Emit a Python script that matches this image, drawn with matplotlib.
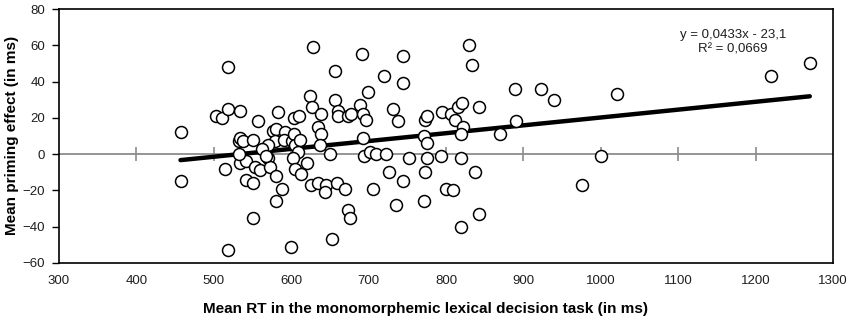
import numpy as np
import matplotlib
matplotlib.use('Agg')
import matplotlib.pyplot as plt

# Data: mean RT (ms) and mean priming effect (ms)
rt = [458, 457, 519, 519, 503, 510, 519, 534, 515, 557,
      551, 532, 534, 538, 551, 534, 542, 532, 542, 551,
      553, 560, 570, 573, 580, 588, 581, 576, 581, 583,
      579, 570, 562, 592, 591, 568, 600,
      601, 603, 603, 610, 605, 611, 609, 602, 605, 613,
      621, 626, 635, 645, 644, 659, 624, 627, 628, 639,
      635, 638, 637, 650, 657, 657, 660, 661, 653,
      670, 674, 676, 674, 677, 689, 693, 697, 691, 699,
      693, 694, 702, 709, 723, 706, 720, 731, 738, 744,
      744, 726, 744, 736, 752,
      773, 776, 771, 775, 775, 773, 772, 795, 793, 807,
      811, 816, 821, 843, 822, 820, 820, 800, 809, 819,
      838, 843, 830, 834,
      870, 891, 889, 923, 939, 976, 1000, 1021, 1220, 1270]
priming = [12, -15, 48, -53, 21, 20, 25, 24, -8, 18,
           -35, 7, 9, 7, 8, -5, -4, 0, -14, -16,
           -7, -9, -2, -7, -12, -19, -26, 13, 14, 23,
           7, 5, 3, 12, 8, -1, -51,
           7, 11, 20, 21, 5, 8, 1, -2, -8, -11,
           -5, -17, -16, -17, -21, -16, 32, 26, 59, 22,
           15, 11, 5, 0, 30, 46, 24, 21, -47,
           -19, -31, -35, 21, 22, 27, 22, 19, 55, 34,
           9, -1, 1, 0, 0, -19, 43, 25, 18, 54,
           39, -10, -15, -28, -2,
           19, 21, 10, 6, -2, -10, -26, 23, -1, 22,
           19, 26, 28, 26, 15, 11, -2, -19, -20, -40,
           -10, -33, 60, 49,
           11, 18, 36, 36, 30, -17, -1, 33, 43, 50]

# Linear trend shown on the chart
slope = 0.0433
intercept = -23.1
eq_text = 'y = 0,0433x - 23,1\nR² = 0,0669'

x_ticks = list(range(300, 1301, 100))
y_ticks = list(range(-60, 81, 20))

plt.rcParams['font.family'] = ['Liberation Sans', 'DejaVu Sans']

fig = plt.figure(figsize=(8.5, 3.23), dpi=100)
ax = fig.add_axes([0.0694, 0.186, 0.9106, 0.786])

# zero line acting as the horizontal axis, with crossing ticks
ax.axhline(0, color='#8c8c8c', lw=1.3, zorder=1)
ax.plot(x_ticks[1:-1], [0] * (len(x_ticks) - 2), ls='none', marker='|',
        ms=10, mew=1.2, color='#8c8c8c', zorder=1)

# trend line
xl = np.array([min(rt), max(rt)])
ax.plot(xl, slope * xl + intercept, color='black', lw=3.2,
        solid_capstyle='round', zorder=2)

# points
ax.plot(rt, priming, ls='none', marker='o', ms=8.6, mfc='white',
        mec='black', mew=1.1, zorder=3)

ax.set_xlim(300, 1300)
ax.set_ylim(-60, 80)
ax.set_xticks(x_ticks)
ax.set_yticks(y_ticks)
ax.tick_params(axis='x', length=0, pad=9, labelsize=9.5, colors='#1e1e1e')
ax.tick_params(axis='y', length=5, width=1, direction='out', pad=5,
               labelsize=9.5, colors='#1e1e1e')
ax.tick_params(axis='y', color='black')
for s in ax.spines.values():
    s.set_color('black')
    s.set_linewidth(1.2)

ax.text(1171, 61.5, eq_text, ha='center', va='center', fontsize=9.5,
        color='#1e1e1e', linespacing=1.3)

ax.set_xlabel('Mean RT in the monomorphemic lexical decision task (in ms)',
              fontsize=11, fontweight='bold')
ax.set_ylabel('Mean priming effect (in ms)', fontsize=11, fontweight='bold')
ax.xaxis.set_label_coords(0.473, -0.155)
ax.yaxis.set_label_coords(-0.052, 0.502)

plt.savefig('out.png', dpi=100)
